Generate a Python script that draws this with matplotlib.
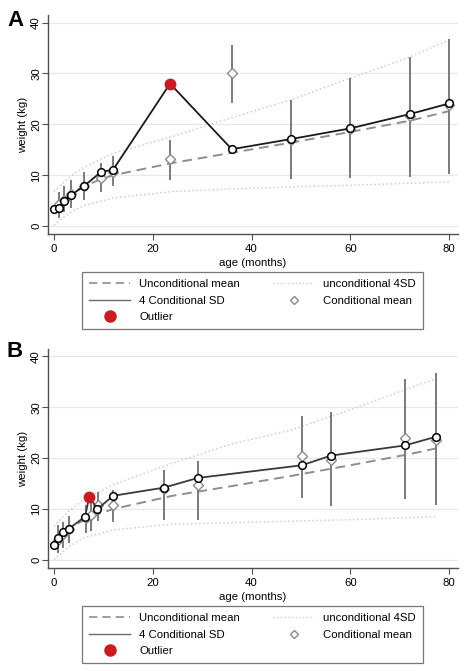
import numpy as np
import matplotlib
matplotlib.use('Agg')
import matplotlib.pyplot as plt
from matplotlib.lines import Line2D

plt.rcParams['font.family'] = ['Liberation Sans', 'DejaVu Sans']

# ---- panel A data ----
a_age = [0, 1, 2, 3.5, 6, 9.5, 12, 23.5, 36, 48, 60, 72, 80]
a_wt = [3.3, 3.6, 5.0, 6.1, 7.8, 10.6, 11.1, 28.0, 15.1, 17.1, 19.2, 22.0, 24.1]
a_out = 7
a_cm_age = [1, 2, 3.5, 6, 9.5, 12, 23.5, 36, 48, 60, 72, 80]
a_cm = [4.4, 5.2, 6.2, 7.8, 9.4, 10.6, 13.1, 30.0, 17.0, 19.0, 21.6, 23.7]
a_cm_lo = [1.6, 2.7, 3.5, 5.1, 6.6, 7.8, 9.0, 24.1, 9.3, 9.5, 9.7, 10.3]
a_cm_hi = [6.7, 7.8, 9.0, 10.6, 12.4, 13.7, 16.9, 35.5, 24.8, 29.1, 33.2, 36.8]
a_um_age = [0, 1, 2, 3, 6, 9, 12, 24, 36, 48, 60, 72, 80]
a_um = [3.3, 4.4, 5.4, 6.1, 7.8, 9.0, 10.0, 12.4, 14.4, 16.4, 18.5, 20.7, 22.6]
a_sd_age = [0, 3, 6, 12, 24, 36, 48, 60, 72, 80]
a_sd_hi = [6.8, 9.5, 11.5, 14.3, 17.6, 21.3, 24.8, 29.1, 33.2, 36.6]
a_sd_lo = [0.2, 2.5, 4.0, 5.5, 6.8, 7.3, 7.7, 8.0, 8.4, 8.7]

# ---- panel B data ----
b_age = [0, 0.75, 1.75, 3, 6.3, 7.15, 8.8, 12, 22.3, 29.1, 50.2, 56.1, 71.1, 77.3]
b_wt = [3.0, 4.25, 5.4, 6.1, 8.5, 12.4, 10.0, 12.6, 14.2, 16.1, 18.6, 20.5, 22.5, 24.2]
b_out = 5
b_cm_age = [0.9, 1.9, 3.1, 6.4, 7.5, 8.9, 12, 22.3, 29.1, 50.2, 56.1, 71.1, 77.3]
b_cm = [4.0, 5.0, 6.0, 8.2, 8.8, 10.7, 10.8, 13.9, 14.7, 20.4, 19.7, 24.0, 23.5]
b_cm_lo = [1.4, 2.3, 3.3, 5.3, 5.7, 7.7, 7.5, 7.8, 7.8, 12.1, 10.5, 11.9, 10.8]
b_cm_hi = [6.9, 7.5, 8.7, 10.8, 11.8, 13.4, 13.7, 17.6, 19.4, 28.2, 29.0, 35.5, 36.7]
b_um_age = [0, 1, 2, 3, 6, 9, 12, 24, 36, 48, 60, 72, 77.3]
b_um = [3.3, 4.4, 5.4, 6.1, 7.8, 9.0, 10.0, 12.6, 14.5, 16.5, 18.6, 20.8, 21.9]
b_sd_age = [0, 3, 6, 12, 24, 36, 48, 60, 72, 77.3]
b_sd_hi = [6.6, 9.6, 11.8, 14.8, 19.0, 22.8, 25.5, 29.5, 33.8, 35.6]
b_sd_lo = [0.0, 2.6, 4.3, 5.9, 7.0, 7.3, 7.6, 7.9, 8.3, 8.5]

yticks = [0, 10, 20, 30, 40]
xticks = [0, 20, 40, 60, 80]

DOT = '#d9c9c9'
DASH = '#8e8e8e'
BAR = '#7a7a7a'
RED = '#cc1b1f'
SPINE = '#505050'
FS = 8.2


def panel(ax, age, wt, out, cm_age, cm, lo, hi, um_age, um, sd_age, sd_hi, sd_lo, line_col):
    ax.set_xlim(-1.2, 81.8)
    ax.set_ylim(-1.6, 41.4)
    for y in yticks:
        ax.axhline(y, color='#e3eaec', lw=0.9, zorder=0)
    ax.plot(sd_age, sd_hi, ls=':', color=DOT, lw=1.1, zorder=1)
    ax.plot(sd_age, sd_lo, ls=':', color=DOT, lw=1.1, zorder=1)
    ax.plot(um_age, um, ls=(0, (5, 3)), color=DASH, lw=1.4, zorder=2)
    ax.vlines(cm_age, lo, hi, color=BAR, lw=1.4, zorder=3)
    ax.plot(cm_age, cm, ls='none', marker='D', ms=5, mfc='white', mec='#8a8a8a',
            mew=1.0, zorder=4)
    ax.plot(age, wt, color=line_col, lw=1.3, zorder=5)
    keep = [i for i in range(len(age)) if i != out]
    ax.plot([age[i] for i in keep], [wt[i] for i in keep], ls='none', marker='o',
            ms=5.5, mfc='white', mec='black', mew=1.1, zorder=6)
    ax.plot(age[out], wt[out], ls='none', marker='o', ms=7.5, color=RED, zorder=7)

    ax.set_xticks(xticks)
    ax.set_yticks(yticks)
    ax.tick_params(axis='both', length=4, width=0.8, color=SPINE, labelsize=FS)
    ax.tick_params(axis='x', pad=3)
    ax.tick_params(axis='y', pad=1)
    for lab in ax.get_yticklabels():
        lab.set_rotation(90)
        lab.set_va('center')
    ax.spines['top'].set_visible(False)
    ax.spines['right'].set_visible(False)
    for s in ['left', 'bottom']:
        ax.spines[s].set_color(SPINE)
        ax.spines[s].set_linewidth(1.0)
    ax.set_xlabel('age (months)', fontsize=FS, labelpad=3)
    ax.set_ylabel('weight (kg)', fontsize=FS, labelpad=2)

    handles = [
        Line2D([], [], ls=(0, (5, 3)), color=DASH, lw=1.2),
        Line2D([], [], color='#6a6a6a', lw=1.0),
        Line2D([], [], ls='none', marker='o', ms=8, color=RED),
        Line2D([], [], ls=':', color=DOT, lw=1.0),
        Line2D([], [], ls='none', marker='D', ms=4.5, mfc='white', mec='#8a8a8a'),
    ]
    labels = ['Unconditional mean', '4 Conditional SD', 'Outlier',
              'unconditional 4SD', 'Conditional mean']
    leg = ax.legend(handles, labels, ncol=2, loc='upper center',
                    bbox_to_anchor=(0.499, -0.147), fontsize=FS, frameon=True,
                    fancybox=False, handlelength=3.6, columnspacing=2.9,
                    labelspacing=0.55, borderpad=0.65, handletextpad=0.8)
    leg.get_frame().set_edgecolor('#555555')
    leg.get_frame().set_linewidth(0.9)


fig = plt.figure(figsize=(4.66, 6.71), dpi=100)
axA = fig.add_axes([0.103, 0.651, 0.880, 0.326])
axB = fig.add_axes([0.103, 0.1535, 0.880, 0.326])

panel(axA, a_age, a_wt, a_out, a_cm_age, a_cm, a_cm_lo, a_cm_hi,
      a_um_age, a_um, a_sd_age, a_sd_hi, a_sd_lo, '#1a1a1a')
panel(axB, b_age, b_wt, b_out, b_cm_age, b_cm, b_cm_lo, b_cm_hi,
      b_um_age, b_um, b_sd_age, b_sd_hi, b_sd_lo, '#3a3a3a')

fig.text(0.015, 0.985, 'A', fontsize=16, fontweight='bold', va='top', ha='left')
fig.text(0.015, 0.492, 'B', fontsize=16, fontweight='bold', va='top', ha='left')

plt.savefig('out.png', dpi=100)
